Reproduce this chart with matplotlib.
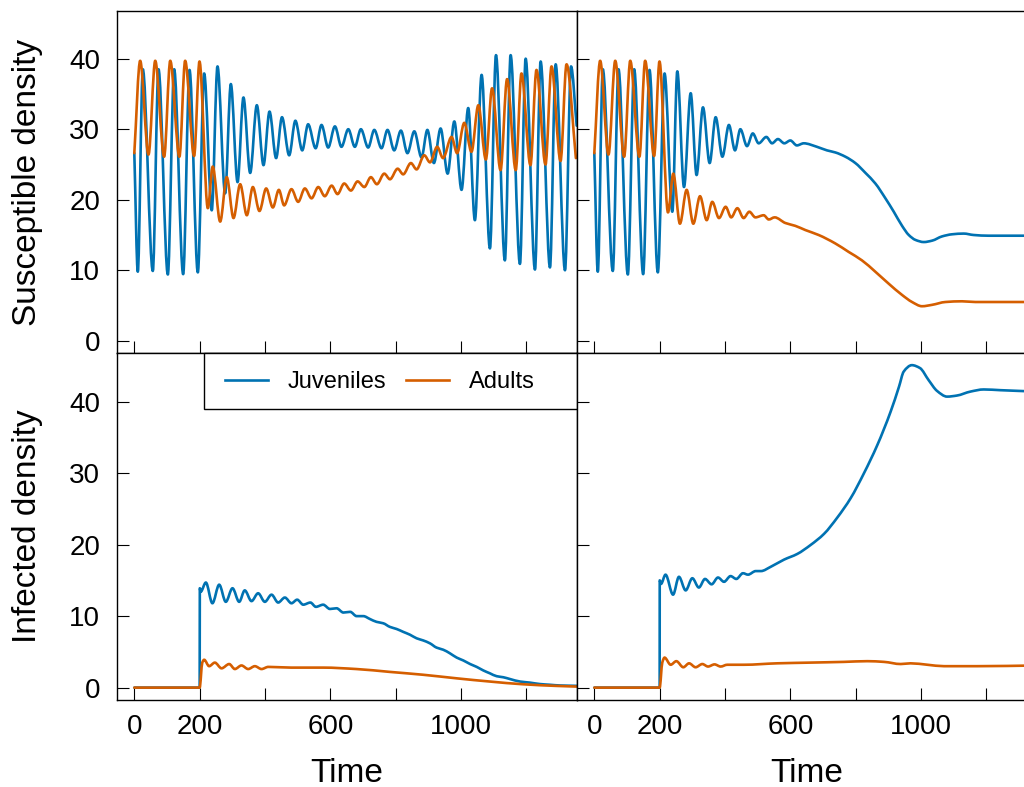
import numpy as np
import matplotlib
matplotlib.use("Agg")
import matplotlib.pyplot as plt
from matplotlib.patches import Rectangle, PathPatch
from matplotlib.path import Path
from matplotlib.lines import Line2D

plt.rcParams['font.family'] = ['Liberation Sans', 'DejaVu Sans']

# ---------------- data ----------------
# susceptible densities before infection (t < 200), identical in both scenarios
pre_t_juv = [0, 10.7, 26, 56.6, 74, 102.6, 122, 149.5, 169, 194.4]
pre_s_juv = [26.6, 9.8, 38.5, 9.9, 38.5, 9.4, 38.5, 9.45, 38.4, 9.7]
pre_t_adu = [0, 17.9, 43.4, 64, 91.3, 110, 138, 155.6, 183, 199.5]
pre_s_adu = [26.6, 39.7, 26.4, 39.7, 26.1, 39.7, 26.1, 39.7, 26.2, 39.6]

# scenario A (left column), susceptible after infection
A_t_juv = [213.8, 237, 254.6, 278, 295.4, 316, 334, 354.6, 375, 395.4, 413.8, 434, 452, 474, 493, 514,
           532, 555, 573, 593.4, 614, 634, 655, 675, 693.5, 715.8, 734.5, 756.6, 775, 795.4, 816, 836,
           857, 879, 897, 917, 937.5, 959, 979.5, 1001.6, 1022, 1042.5, 1063, 1088.5, 1107, 1134.3,
           1151.8, 1180.4, 1197.8, 1226.4, 1243.7, 1272.3, 1289.7, 1318.3, 1336.7, 1354]
A_s_juv = [37.9, 18.5, 38.9, 20.9, 36.4, 22.5, 34.5, 23.8, 33.4, 24.9, 32.5, 25.9, 31.7, 26.3, 31.2, 27.0,
           30.7, 27.3, 30.6, 27.4, 30.4, 27.5, 30.0, 27.5, 30.0, 27.4, 29.9, 27.3, 29.9, 27.0, 29.8, 26.6,
           29.7, 26.0, 29.9, 25.2, 30.1, 23.7, 31.1, 21.4, 33.0, 17.1, 37.7, 13.1, 40.5, 11.4,
           40.5, 10.9, 40.0, 10.1, 39.6, 10.4, 39.2, 10.0, 38.9, 30.5]
A_t_adu = [225, 240, 262.8, 283, 303.6, 324, 344.4, 362.8, 383, 403.6, 424, 442.4, 458.6, 481, 501.5,
           522, 542.5, 563, 583, 604, 622, 642.4, 663, 683.4, 704, 724, 742.5, 765, 782.5, 806, 823,
           846.5, 864, 887.5, 905, 927, 945, 971, 988, 1010, 1032, 1053, 1076, 1095, 1121, 1141,
           1167.5, 1185, 1212.5, 1231, 1258.6, 1277, 1304.6, 1323, 1351.6]
A_s_adu = [18.8, 24.7, 16.9, 23.2, 17.4, 22.2, 17.8, 21.8, 18.4, 21.6, 18.9, 21.4, 19.2, 21.5, 19.7,
           21.6, 20.2, 21.8, 20.5, 22.0, 20.8, 22.3, 21.3, 22.6, 21.8, 23.2, 22.2, 23.7, 22.9, 24.4, 23.6,
           25.2, 24.3, 26.3, 25.3, 27.5, 25.9, 28.9, 26.6, 30.9, 26.8, 33.4, 25.7, 35.8, 24.2, 37.1,
           24.2, 37.9, 24.9, 38.4, 25.0, 38.9, 25.5, 39.2, 25.9]

# scenario B (right column), susceptible after infection
B_t_juv = [215, 238.8, 254, 274.5, 295, 313, 332.6, 353, 371.4, 392, 412, 430.6, 447, 467.4, 485, 503,
           526.6, 544, 562, 581.6, 600, 620, 641, 681.6, 712, 738, 768.5, 799, 830, 860.3, 891, 916.6,
           942, 962.5, 983, 1008.5, 1034, 1064.3, 1095, 1130.7, 1161.3, 1207, 1355]
B_s_juv = [37.9, 18.3, 38.2, 21.8, 35.1, 23.5, 33.1, 25.2, 31.7, 26.1, 30.6, 27.0, 30.0, 27.6, 29.4, 28.0,
           28.9, 28.0, 28.6, 28.0, 28.4, 27.7, 28.0, 27.5, 27.0, 26.7, 26.1, 25.2, 23.8, 22.3, 20.2, 18.3,
           16.3, 15.0, 14.3, 14.0, 14.2, 14.8, 15.1, 15.2, 15.0, 14.9, 14.9]
B_t_adu = [225.5, 241.8, 262, 282.7, 303, 323.5, 344, 361, 381.6, 402, 419, 437.8, 457, 474.5, 493,
           518.5, 534, 552, 584.7, 615, 646, 686.7, 737.7, 778.5, 819.3, 860, 901, 942, 972.5, 1003,
           1034, 1074.5, 1125.6, 1166.4, 1355]
B_s_adu = [18.2, 23.7, 16.6, 21.4, 16.6, 20.5, 17.1, 19.7, 17.4, 19.0, 17.5, 18.8, 17.4, 18.3, 17.5,
           17.8, 17.2, 17.5, 16.7, 16.3, 15.7, 15.0, 13.8, 12.6, 11.4, 9.8, 8.1, 6.5, 5.5, 4.9,
           5.1, 5.5, 5.6, 5.5, 5.5]

# infected densities, scenario A
IA_t_juv = [0, 200, 200.5, 203, 219, 239, 259.8, 280, 300.5, 321, 338, 358.7, 379, 399.5, 420, 440.3,
            460.8, 481, 498.5, 517, 539, 555.8, 578, 598.8, 619, 640, 660.8, 680.3, 701, 721, 741.4,
            762, 782, 802.9, 823, 843.8, 864, 884.3, 904.7, 925, 945.6, 966, 986.8, 1007, 1027.8,
            1048, 1068.4, 1088.5, 1109, 1129.6, 1150, 1180.8, 1211, 1241.5, 1272, 1303, 1354]
IA_i_juv = [0, 0, 13.9, 13.4, 14.7, 11.8, 14.4, 12.0, 13.9, 12.0, 13.6, 12.1, 13.2, 12.0, 13.0, 11.9,
            12.6, 11.8, 12.3, 11.6, 11.9, 11.3, 11.6, 11.0, 11.1, 10.5, 10.6, 10.0, 10.0, 9.6, 9.2,
            9.0, 8.5, 8.2, 7.8, 7.4, 6.9, 6.6, 6.2, 5.6, 5.3, 4.8, 4.2, 3.8, 3.3,
            2.9, 2.4, 2.0, 1.6, 1.45, 1.2, 0.85, 0.7, 0.5, 0.4, 0.3, 0.25]
IA_t_adu = [0, 200, 208, 213.8, 229, 246.5, 267, 290.4, 307.7, 328, 348.5, 369, 389.4, 410, 480, 578,
            680, 782, 884, 986.8, 1088.5, 1190.5, 1292.6, 1354]
IA_i_adu = [0, 0, 3.5, 3.9, 3.0, 3.5, 2.7, 3.3, 2.6, 3.1, 2.6, 3.0, 2.6, 2.9, 2.8, 2.8,
            2.6, 2.2, 1.8, 1.3, 0.85, 0.47, 0.24, 0.15]

# infected densities, scenario B
IB_t_juv = [0, 200, 200.2, 204, 218, 241, 259, 279.6, 300, 320, 338.8, 359, 378.6, 397, 417, 434.7,
            455, 470.4, 494, 510, 540, 580.6, 621.4, 662, 703, 744, 784.7, 825.5, 866, 907, 932.7, 947,
            972, 996.6, 1023.4, 1049, 1079.7, 1110, 1151, 1192, 1243, 1355]
IB_i_juv = [0, 0, 15.0, 14.5, 15.8, 13.0, 15.5, 13.6, 15.3, 14.0, 15.2, 14.45, 15.4, 14.8, 15.6, 15.2,
            16.0, 15.8, 16.3, 16.3, 16.9, 17.9, 18.7, 19.95, 21.5, 23.8, 26.5, 30.0, 33.9, 38.6, 42.1, 44.2,
            45.1, 44.7, 43.0, 41.5, 40.7, 40.85, 41.4, 41.7, 41.6, 41.4]
IB_t_adu = [0, 200, 208, 215, 233.7, 251, 272.4, 290, 310, 330.6, 348, 368, 386.7, 407, 458, 560,
            662, 764, 835.7, 886.7, 937.8, 968, 1019.4, 1070.4, 1172.4, 1355]
IB_i_adu = [0, 0, 3.5, 4.2, 3.2, 3.7, 2.85, 3.4, 2.85, 3.3, 2.95, 3.25, 2.95, 3.2, 3.2, 3.4,
            3.5, 3.6, 3.7, 3.6, 3.3, 3.4, 3.2, 3.0, 3.0, 3.1]

x_ticks = [0, 200, 400, 600, 800, 1000, 1200]
x_tick_labels = ['0', '200', '', '600', '', '1000', '']
y_ticks = [0, 10, 20, 30, 40]
y_tick_labels = ['0', '10', '20', '30', '40']
series_labels = ['Juveniles', 'Adults']
y_labels = ['Susceptible density', 'Infected density']
x_label = 'Time'

# ---------------- styling ----------------
C_JUV = '#0072B2'
C_ADU = '#D55E00'
LW = 1.9


def smooth_curve(ax, xs, ys, color):
    """Draw a shape-preserving (monotone cubic) curve through the data points
    as a Bezier path in data coordinates."""
    x = np.asarray(xs, float)
    y = np.asarray(ys, float)
    h = np.diff(x)
    d = np.diff(y) / h
    n = len(x)
    m = np.zeros(n)
    m[0], m[-1] = d[0], d[-1]
    for k in range(1, n - 1):
        if d[k - 1] * d[k] <= 0:
            m[k] = 0.0
        else:
            w1 = 2 * h[k] + h[k - 1]
            w2 = h[k] + 2 * h[k - 1]
            m[k] = (w1 + w2) / (w1 / d[k - 1] + w2 / d[k])
    verts = [(x[0], y[0])]
    codes = [Path.MOVETO]
    for k in range(n - 1):
        verts += [(x[k] + h[k] / 3, y[k] + m[k] * h[k] / 3),
                  (x[k + 1] - h[k] / 3, y[k + 1] - m[k + 1] * h[k] / 3),
                  (x[k + 1], y[k + 1])]
        codes += [Path.CURVE4] * 3
    patch = PathPatch(Path(verts, codes), facecolor='none', edgecolor=color, lw=LW,
                      joinstyle='round', capstyle='round', zorder=2)
    ax.add_patch(patch)


W, H = 1024, 787
fig = plt.figure(figsize=(W / 100, H / 100), dpi=100)
fig.patch.set_facecolor('white')


def add(px0, py0, px1, py1):
    return fig.add_axes([px0 / W, 1 - py1 / H, (px1 - px0) / W, (py1 - py0) / H])


axTL = add(117, 10.7, 577, 353)
axTR = add(577, 10.7, 1037, 353)
axBL = add(117, 353, 577, 700)
axBR = add(577, 353, 1037, 700)

smooth_curve(axTL, pre_t_juv + A_t_juv, pre_s_juv + A_s_juv, C_JUV)
smooth_curve(axTL, pre_t_adu + A_t_adu, pre_s_adu + A_s_adu, C_ADU)
smooth_curve(axTR, pre_t_juv + B_t_juv, pre_s_juv + B_s_juv, C_JUV)
smooth_curve(axTR, pre_t_adu + B_t_adu, pre_s_adu + B_s_adu, C_ADU)
smooth_curve(axBL, IA_t_juv, IA_i_juv, C_JUV)
smooth_curve(axBL, IA_t_adu, IA_i_adu, C_ADU)
smooth_curve(axBR, IB_t_juv, IB_i_juv, C_JUV)
smooth_curve(axBR, IB_t_adu, IB_i_adu, C_ADU)

for ax, is_left, is_bottom in [(axTL, True, False), (axTR, False, False),
                               (axBL, True, True), (axBR, False, True)]:
    ax.set_xlim(-53, 1355)
    ax.set_ylim(-1.73, 46.8)
    ax.set_xticks(x_ticks)
    ax.set_yticks(y_ticks)
    ax.set_xticklabels(x_tick_labels if is_bottom else [''] * len(x_ticks))
    ax.set_yticklabels(y_tick_labels if is_left else [''] * len(y_ticks))
    ax.tick_params(axis='both', direction='in', length=8.6, width=0.8, color='black',
                   labelsize=20, top=False, right=False)
    ax.tick_params(axis='y', pad=12)
    ax.tick_params(axis='x', pad=10)
    for s in ax.spines.values():
        s.set_linewidth(1.0)
        s.set_color('black')
        s.set_zorder(3)
    ax.set_facecolor('white')

# legend with a square box anchored to the upper right of the bottom-left panel
axBL.add_patch(Rectangle((0.1902, 0.8386), 0.8098, 0.1614, transform=axBL.transAxes,
                         facecolor='white', edgecolor='black', lw=1.0, zorder=4, clip_on=False))
handles = [Line2D([], [], color=C_JUV, lw=LW), Line2D([], [], color=C_ADU, lw=LW)]
axBL.legend(handles, series_labels, loc='center', bbox_to_anchor=(0.5717, 0.9164), ncol=2,
            frameon=False, fontsize=17, handlelength=1.82, handletextpad=0.85,
            columnspacing=0.85, borderpad=0, borderaxespad=0)

fig.text(28 / W, 1 - 182 / H, y_labels[0], rotation=90, ha='center', va='center', fontsize=24)
fig.text(28 / W, 1 - 526 / H, y_labels[1], rotation=90, ha='center', va='center', fontsize=24)
fig.text(347 / W, 1 - 782 / H, x_label, ha='center', va='baseline', fontsize=24)
fig.text(807 / W, 1 - 782 / H, x_label, ha='center', va='baseline', fontsize=24)

fig.savefig('out.png', dpi=100, facecolor='white')
